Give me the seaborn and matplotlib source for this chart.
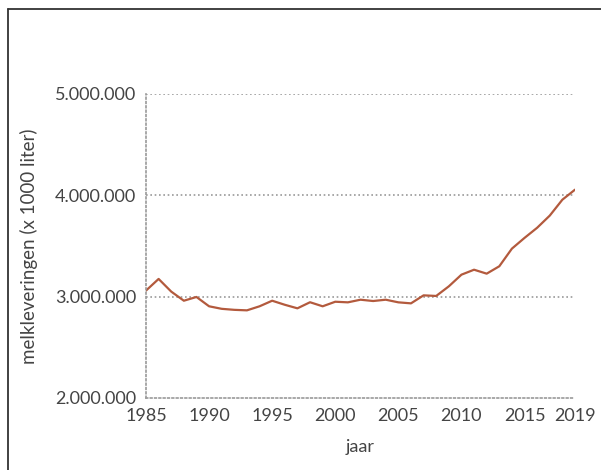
import numpy as np
import pandas as pd
import seaborn as sns
import matplotlib
matplotlib.use('Agg')
import matplotlib.pyplot as plt
from matplotlib.lines import Line2D
from matplotlib.ticker import FuncFormatter, MultipleLocator

# melkleveringen per jaar (x 1000 liter)
jaren = list(range(1985, 2020))
melk = [3060000, 3175000, 3050000, 2960000, 2997000, 2905000, 2880000, 2870000,
        2865000, 2905000, 2960000, 2920000, 2885000, 2945000, 2905000, 2950000,
        2944000, 2970000, 2957000, 2970000, 2944000, 2934000, 3013000, 3007000,
        3102000, 3217000, 3266000, 3227000, 3300000, 3474000, 3580000, 3680000,
        3800000, 3957000, 4056000]
x_labels = [1985, 1990, 1995, 2000, 2005, 2010, 2015, 2019]
y_ticks = [2000000, 3000000, 4000000, 5000000]

sns.set_style('white')
plt.rcParams['font.family'] = ['Lato', 'DejaVu Sans']
tekst = '#444444'
grijs = '#9a9a9a'

df = pd.DataFrame({'jaar': jaren, 'melk': melk})

fig = plt.figure(figsize=(6.01, 4.70), dpi=100)
ax = fig.add_axes([146/601, 1-398/470, (575-146)/601, (398-94)/470])

sns.lineplot(data=df, x='jaar', y='melk', ax=ax, color='#b35a3d', linewidth=1.6)

ax.set_xlim(1985, 2019)
ax.set_ylim(2000000, 5000000)
ax.set_yticks(y_ticks)
ax.yaxis.set_major_formatter(FuncFormatter(lambda v, p: f'{int(v):,}'.replace(',', '.')))
ax.set_xticks(x_labels)
ax.xaxis.set_minor_locator(MultipleLocator(1))

for v in y_ticks[1:]:
    ax.axhline(v, color=grijs, linestyle=(0, (1, 1.6)), linewidth=1.2, zorder=0)

for s in ['top', 'right']:
    ax.spines[s].set_visible(False)
for s in ['left', 'bottom']:
    ax.spines[s].set_color(grijs)
    ax.spines[s].set_linestyle((0, (1, 1.6)))
    ax.spines[s].set_linewidth(1.2)

ax.tick_params(axis='y', length=0, pad=7, labelsize=13, labelcolor=tekst)
ax.tick_params(axis='x', which='both', direction='in', length=5, width=1,
               color='#aaaaaa', labelsize=13, labelcolor=tekst, pad=7)

ax.set_xlabel('jaar', fontsize=13, color=tekst, labelpad=11)
ax.set_ylabel('melkleveringen (x 1000 liter)', fontsize=13.5, color=tekst, labelpad=12)

# kader links en boven
fig.add_artist(Line2D([8/601, 8/601], [0, 1-9/470], color='#333333', linewidth=1.3))
fig.add_artist(Line2D([8/601, 1], [1-9/470, 1-9/470], color='#333333', linewidth=1.3))

fig.savefig('out.png', dpi=100)
